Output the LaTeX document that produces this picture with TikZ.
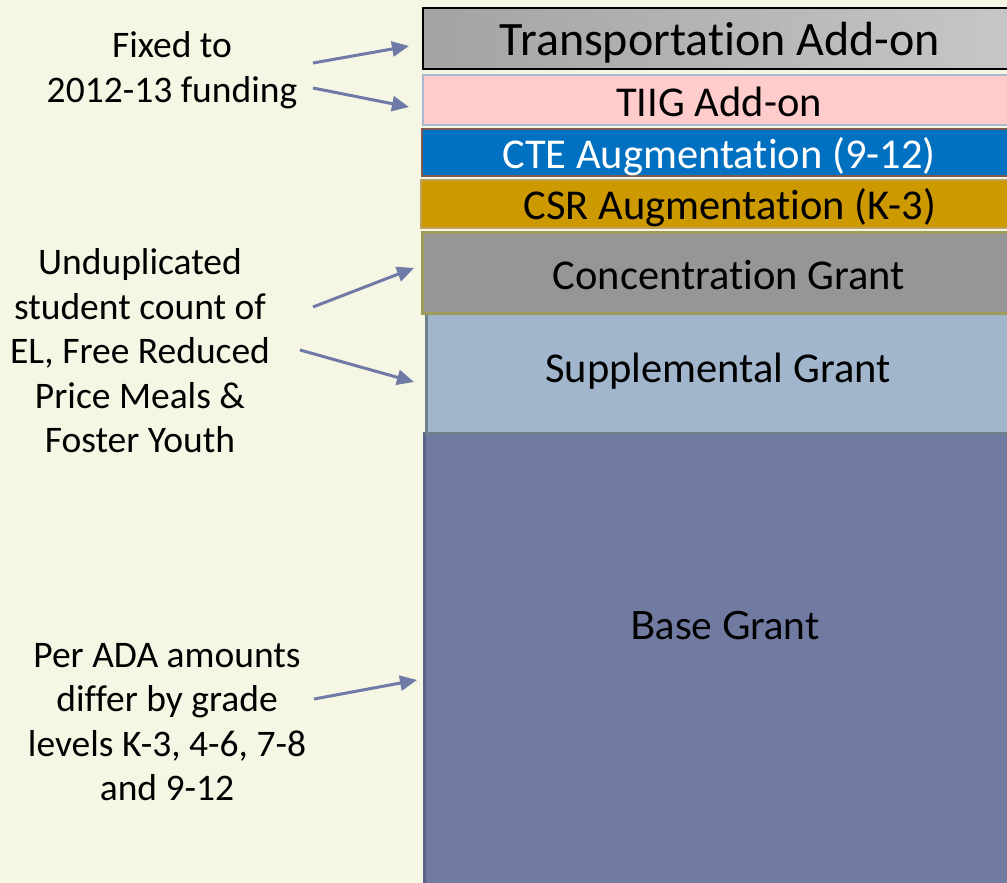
\documentclass[tikz,border=0pt]{standalone}
\usepackage{fontspec}
\setmainfont{Carlito}[Ligatures=NoCommon]
\newfontfamily\gillfont{Lato}
\usetikzlibrary{arrows.meta}
\definecolor{bgc}{HTML}{F5F7E4}
\definecolor{arrowc}{HTML}{6F7AA6}
\definecolor{tiigfill}{HTML}{FFCCCC}
\definecolor{tiigdraw}{HTML}{A9B8CC}
\definecolor{ctefill}{HTML}{0070C0}
\definecolor{ctedraw}{HTML}{7F5A50}
\definecolor{csrfill}{HTML}{CC9900}
\definecolor{csrdraw}{HTML}{C0A060}
\definecolor{concfill}{HTML}{969696}
\definecolor{concdraw}{HTML}{9C9C58}
\definecolor{suppfill}{HTML}{A1B6CD}
\definecolor{suppdraw}{HTML}{6E7F8E}
\definecolor{basefill}{HTML}{717AA0}
\definecolor{basedraw}{HTML}{5A6186}
\tikzset{
  lbl/.style={align=center, font=\fontsize{37.5}{44.5}\selectfont, text=black},
  ptr/.style={draw=arrowc, line width=3pt, -{Triangle[length=17pt,width=15pt]}},
  boxtext/.style={font=\fontsize{42.5}{44}\selectfont, anchor=center}
}
\begin{document}
\begin{tikzpicture}[x=1pt,y=-1pt]
\useasboundingbox (0,0) rectangle (1007,883);
\fill[bgc] (0,0) rectangle (1007,883);
\begin{scope}
\clip (0,0) rectangle (1007,883);
% boxes
\shade[left color=black!36, right color=black!22] (423,8) rectangle (1020,69);
\draw[black, line width=2pt] (423,8) rectangle (1020,69);
\draw[tiigdraw, fill=tiigfill, line width=2pt] (423,75) rectangle (1020,125);
\draw[ctedraw, fill=ctefill, line width=2.5pt] (422,129) rectangle (1020,176);
\draw[csrdraw, fill=csrfill, line width=2pt] (421,180) rectangle (1020,228);
\draw[basedraw, fill=basefill, line width=3pt] (424,433) rectangle (1020,900);
\draw[suppdraw, fill=suppfill, line width=3pt] (426,313) rectangle (1020,433);
\draw[concdraw, fill=concfill, line width=3pt] (422,232) rectangle (1020,313);
\end{scope}
% box labels
\node[boxtext, font=\fontsize{48}{50}\selectfont] (trans) at (720,43) {Transportation Add-on};
\node[boxtext] (tiig) at (719,102) {TIIG Add-on};
\node[boxtext, text=white] (cte) at (719,157) {CTE Augmentation (9-12)};
\node[boxtext] (csr) at (730,208) {CSR Augmentation (K-3)};
\node[boxtext] (conc) at (729,275) {Concentration Grant};
\node[boxtext] (supp) at (718,371) {Supplemental Grant};
\node[boxtext, font=\gillfont\fontsize{39}{41}\selectfont] (base) at (725,626) {Base Grant};
% left labels
\node[lbl] (fixed) at (172,70) {Fixed to\\2012-13 funding};
\node[lbl] (undup) at (140,351) {Unduplicated\\student count of\\EL, Free Reduced\\Price Meals \&\\Foster Youth};
\node[lbl] (perada) at (167,722) {Per ADA amounts\\differ by grade\\levels K-3, 4-6, 7-8\\and 9-12};
% arrow coordinates
\coordinate (a1s) at (313,63);  \coordinate (a1e) at (409,46);
\coordinate (a2s) at (313,88);  \coordinate (a2e) at (409,107);
\coordinate (a3s) at (313,307); \coordinate (a3e) at (414,268);
\coordinate (a4s) at (300,350); \coordinate (a4e) at (414,382);
\coordinate (a5s) at (314,699); \coordinate (a5e) at (417,680);
\draw[ptr] (a1s) -- (a1e);
\draw[ptr] (a2s) -- (a2e);
\draw[ptr] (a3s) -- (a3e);
\draw[ptr] (a4s) -- (a4e);
\draw[ptr] (a5s) -- (a5e);
\end{tikzpicture}
\end{document}
